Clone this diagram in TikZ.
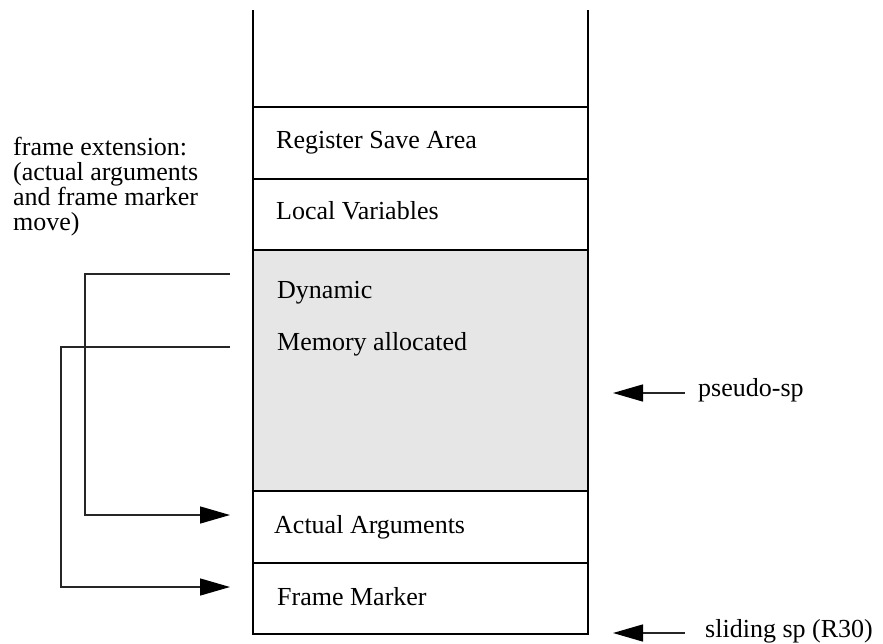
\documentclass[tikz,border=0pt]{standalone}
\usepackage{fontspec}
\setmainfont{Liberation Serif}
\usetikzlibrary{arrows.meta}
\definecolor{dynfill}{HTML}{E6E6E6}
\tikzset{
  cell/.style={draw=black, line width=1.6pt, minimum width=335pt, inner sep=0pt, outer sep=0pt, anchor=north west},
  lbl/.style={anchor=base west, inner sep=0pt, font=\fontsize{26}{25}\selectfont},
  link/.style={draw=black!85, line width=1.4pt},
  tip/.style={-{Triangle[length=30pt,width=17pt,color=black,fill=black]}},
}
\begin{document}
\begin{tikzpicture}[x=1pt,y=-1pt]
\useasboundingbox (0,0) rectangle (883,643);
% open top of the stack
\coordinate (tl) at (253,10);
\coordinate (tr) at (588,10);
\node[cell, minimum height=72pt] (reg) at (253,107) {};
\node[cell, minimum height=71pt] (loc) at (253,179) {};
\node[cell, minimum height=241pt, fill=dynfill] (dyn) at (253,250) {};
\node[cell, minimum height=72pt] (act) at (253,491) {};
\node[cell, minimum height=71pt] (frm) at (253,563) {};
\draw[line width=1.6pt] (tl) -- (reg.north west);
\draw[line width=1.6pt] (tr) -- (reg.north east);
% labels
\node[lbl] (tReg) at (276,148) {Register Save Area};
\node[lbl] (tLoc) at (276,219) {Local Variables};
\node[lbl] (tDyn) at (277,298) {Dynamic};
\node[lbl] (tMem) at (277,350) {Memory allocated};
\node[lbl] (tAct) at (274,533) {Actual Arguments};
\node[lbl] (tFrm) at (277,605) {Frame Marker};
\node[lbl, align=left] (tExt) at (13,230) {frame extension:\\(actual arguments\\and frame marker\\move)};
\node[lbl] (tPsp) at (698,396) {pseudo-sp};
\node[lbl] (tSsp) at (705,637) {sliding sp (R30)};
% connectors
\coordinate (a1s) at (230,274);
\coordinate (a1e) at (230,515);
\coordinate (a2s) at (230,347);
\coordinate (a2e) at (230,587);
\draw[link, tip] (a1s) -- (85,274) -- (85,515) -- (a1e);
\draw[link, tip] (a2s) -- (61,347) -- (61,587) -- (a2e);
\coordinate (p1) at (685,393);
\coordinate (p2) at (613,393);
\coordinate (s1) at (685,633);
\coordinate (s2) at (613,633);
\draw[link, tip] (p1) -- (p2);
\draw[link, tip] (s1) -- (s2);
\end{tikzpicture}
\end{document}
